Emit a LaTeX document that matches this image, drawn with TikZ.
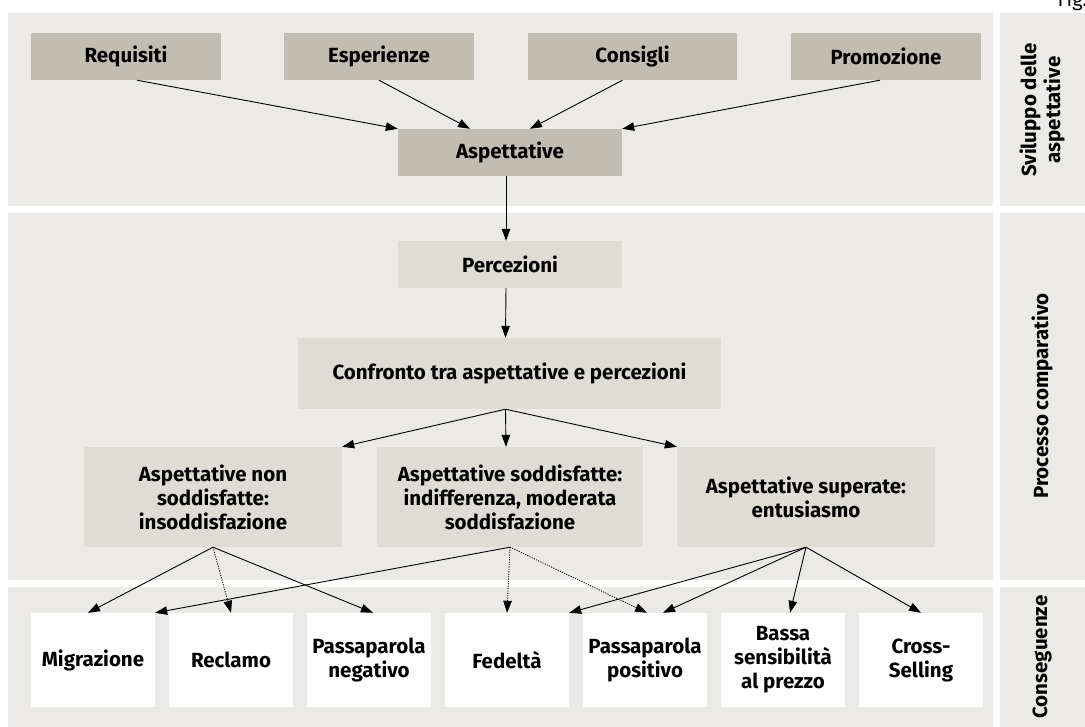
\documentclass[tikz,border=0pt]{standalone}
\usepackage{fontspec}
\setmainfont{Fira Sans}
\usetikzlibrary{arrows.meta}

\begin{document}
\begin{tikzpicture}[x=1pt,y=-1pt,>={Triangle[length=12pt,width=8.5pt]},
  font=\fontsize{20.5}{24}\selectfont\bfseries]
\definecolor{bandgrey}{RGB}{235,234,230}
\definecolor{topgrey}{RGB}{193,189,177}
\definecolor{midgrey}{RGB}{222,220,213}

\tikzset{
  topbox/.style={fill=topgrey,minimum height=47pt,inner sep=0pt},
  midbox/.style={fill=midgrey,inner sep=0pt,align=center},
  outbox/.style={fill=white,minimum width=124pt,minimum height=94pt,inner sep=0pt,align=center},
  sidelabel/.style={rotate=90,align=center},
  link/.style={->,line width=0.9pt},
  weak/.style={->,line width=0.8pt,dash pattern=on 1.2pt off 1.2pt}
}

\useasboundingbox (0,0) rectangle (1085,727);

% Bands and side column.
\fill[bandgrey] (8,13) rectangle (993,206);
\fill[bandgrey] (1000,13) rectangle (1085,206);
\fill[bandgrey] (8,213) rectangle (993,580);
\fill[bandgrey] (1000,213) rectangle (1085,580);
\fill[bandgrey] (8,587) rectangle (993,727);
\fill[bandgrey] (1000,587) rectangle (1085,727);

\node[font=\fontsize{20}{24}\selectfont\mdseries,anchor=base west] (fig) at (1054,7) {Fig.};

\node[sidelabel] (lbltop) at (1042,110) {Sviluppo delle\\aspettative};
\node[sidelabel] (lblmid) at (1042,396) {Processo comparativo};
\node[sidelabel] (lblbot) at (1042,657) {Conseguenze};

% Development of expectations.
\node[topbox,minimum width=190pt] (req) at (126,56.5) {Requisiti};
\node[topbox,minimum width=190pt] (esp) at (379,56.5) {Esperienze};
\node[topbox,minimum width=209pt] (cons) at (632.5,56.5) {Consigli};
\node[topbox,minimum width=190pt] (prom) at (886,56.5) {Promozione};
\node[topbox,minimum width=224pt] (asp) at (510,152.5) {Aspettative};

\draw[link] ([xshift=11pt]req.south) -- (asp.north west);
\draw[link] (esp.south) -- ([xshift=-40pt]asp.north);
\draw[link] ([xshift=-10pt]cons.south) -- ([xshift=20pt]asp.north);
\draw[link] ([xshift=-6pt]prom.south) -- (asp.north east);

% Comparison.
\node[midbox,minimum width=224pt,minimum height=47pt] (perc) at (510,264.5) {Percezioni};
\node[midbox,minimum width=423pt,minimum height=71pt] (conf) at (509.5,373.5)
  {Confronto tra aspettative e percezioni};
\node[midbox,minimum width=258pt,minimum height=100pt] (nonsodd) at (213,497)
  {Aspettative non\\soddisfatte:\\insoddisfazione};
\node[midbox,minimum width=266pt,minimum height=100pt] (sodd) at (510,497)
  {Aspettative soddisfatte:\\indifferenza, moderata\\soddisfazione};
\node[midbox,minimum width=258pt,minimum height=100pt] (sup) at (806,497)
  {Aspettative superate:\\entusiasmo};

\draw[link] ([xshift=-4pt]asp.south) -- ([xshift=-4pt]perc.north);
\draw[link] ([xshift=-4pt]perc.south) -- ([xshift=-4pt]conf.north);
\draw[link] ([xshift=-4pt]conf.south) -- (nonsodd.north east);
\draw[link] ([xshift=-4pt]conf.south) -- ([xshift=-4pt]sodd.north);
\draw[link] ([xshift=-4pt]conf.south) -- (sup.north west);

% Consequences.
\foreach \name/\txt [count=\i from 0] in {mig/Migrazione, rec/Reclamo,
    pneg/{Passaparola\\negativo}, fed/Fedeltà, ppos/{Passaparola\\positivo},
    bassa/{Bassa\\sensibilità\\al prezzo}, cross/{Cross-\\Selling}}{
  \node[outbox] (\name) at (93+138*\i,660) {\txt};
}

\draw[link] (nonsodd.south) -- ([xshift=-5pt]mig.north);
\draw[weak] (nonsodd.south) -- (rec.north);
\draw[link] (nonsodd.south) -- ([xshift=4pt]pneg.north);

\draw[link] (sodd.south) -- (mig.north east);
\draw[weak] (sodd.south) -- (fed.north);
\draw[weak] (sodd.south) -- ([xshift=2pt]ppos.north);

\draw[link] (sup.south) -- (fed.north east);
\draw[link] (sup.south) -- ([xshift=18pt]ppos.north);
\draw[link] (sup.south) -- ([xshift=7pt]bassa.north);
\draw[link] (sup.south) -- (cross.north);
\end{tikzpicture}
\end{document}
